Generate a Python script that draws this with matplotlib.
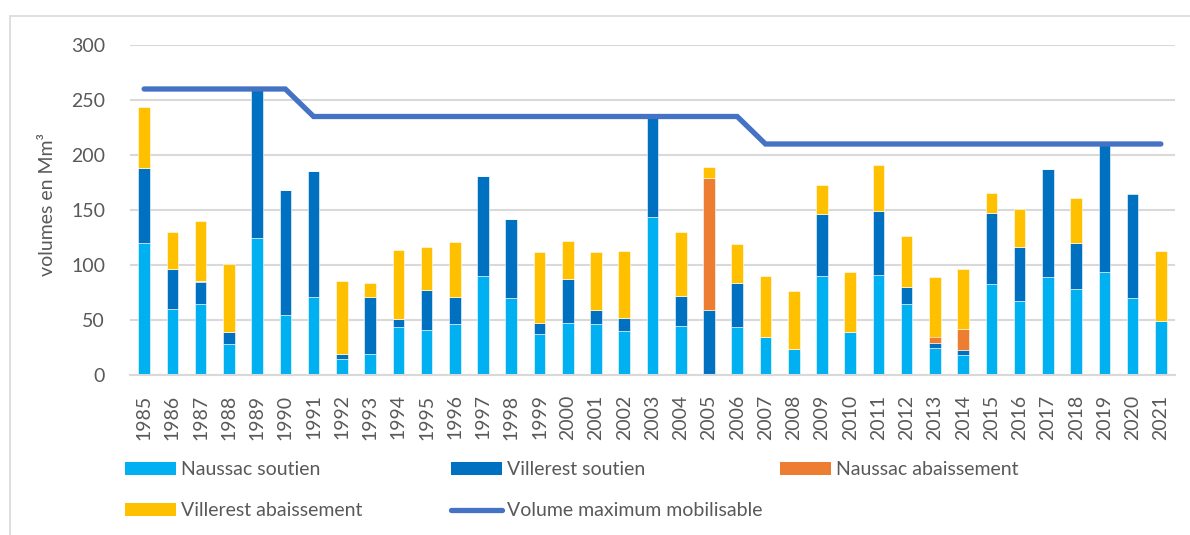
import matplotlib
matplotlib.use("Agg")
import matplotlib.pyplot as plt
from matplotlib.patches import Patch, Rectangle
from matplotlib.lines import Line2D
import numpy as np

years = list(range(1985, 2022))
naussac_soutien = [120, 60, 65, 28, 125, 55, 71, 15, 19, 44, 41, 46, 90, 70, 37, 47, 46, 40, 144, 45,
                   0, 44, 35, 24, 90, 39, 91, 65, 24.5, 18, 83, 67, 89, 78, 94, 70, 49]
villerest_soutien = [68, 36, 20, 11, 134, 113, 114, 4, 52, 7, 36, 25, 91, 72, 10, 40, 13, 12, 90, 27,
                     59, 40, 0, 0, 56, 0, 58, 15, 5, 5, 64, 49, 98, 42, 115, 95, 0]
naussac_abaissement = [0, 0, 0, 0, 0, 0, 0, 0, 0, 0, 0, 0, 0, 0, 0, 0, 0, 0, 0, 0,
                       120, 0, 0, 0, 0, 0, 0, 0, 5.5, 19, 0, 0, 0, 0, 0, 0, 0]
villerest_abaissement = [56, 34, 55, 62, 0, 0, 0, 66, 13, 63, 39, 50, 0, 0, 65, 35, 53, 61, 0, 58,
                         10, 35, 55, 52, 27, 55, 42, 46, 54, 54, 18, 35, 0, 41, 0, 0, 64]
volume_max = [260] * 6 + [235] * 16 + [210] * 15

labels = ["Naussac soutien", "Villerest soutien", "Naussac abaissement",
          "Villerest abaissement", "Volume maximum mobilisable"]
colors = ["#00B0F0", "#0070C0", "#ED7D31", "#FFC000"]
line_color = "#4472C4"
text_color = "#595959"

plt.rcParams['font.family'] = ['Lato', 'DejaVu Sans']

fig = plt.figure(figsize=(11.9, 5.35), dpi=100)
ax = fig.add_axes([130 / 1190, 1 - 375 / 535, 1045 / 1190, 330 / 535])

x = np.arange(len(years))
series = [naussac_soutien, villerest_soutien, naussac_abaissement, villerest_abaissement]
bottom = np.zeros(len(years))
for vals, col, lab in zip(series, colors, labels[:4]):
    v = np.array(vals, dtype=float)
    ax.bar(x, v, bottom=bottom, width=0.41, color=col, edgecolor="white",
           linewidth=0.4, label=lab, zorder=2)
    bottom += v

ax.plot(x, volume_max, color=line_color, linewidth=3.8, solid_capstyle="round",
        solid_joinstyle="miter", zorder=3, label=labels[4])

ax.set_xlim(-0.5, len(years) - 0.5)
ax.set_ylim(0, 300)
ax.set_yticks(range(0, 301, 50))
ax.set_xticks(x)
ax.set_xticklabels([str(y) for y in years], rotation=90, fontsize=14, color=text_color)
ax.tick_params(axis="y", labelsize=14, labelcolor=text_color, length=0, pad=18)
ax.tick_params(axis="x", length=0, pad=14)
ax.grid(axis="y", color="#D9D9D9", linewidth=1.5, zorder=0)
ax.set_axisbelow(True)
for s in ["top", "right", "left"]:
    ax.spines[s].set_visible(False)
ax.spines["bottom"].set_color("#D9D9D9")
ax.spines["bottom"].set_linewidth(1.5)
ax.set_ylabel("volumes en Mm³", fontsize=14, color=text_color)
ax.yaxis.set_label_coords((56 - 130) / 1045, (375 - 205) / 330)

# chart frame (left and top edges visible)
fig.patches.append(Rectangle((10 / 1190, -0.1), 1.2, (535 - 16) / 535 + 0.1,
                             transform=fig.transFigure, fill=False,
                             edgecolor="#D9D9D9", linewidth=1.2))

handles = [Patch(facecolor=c) for c in colors] + \
          [Line2D([0], [0], color=line_color, linewidth=3.8, solid_capstyle="round")]

kw = dict(frameon=False, fontsize=14, handlelength=2.6, handleheight=0.65,
          handletextpad=0.3, labelspacing=1.25, borderpad=0, borderaxespad=0,
          labelcolor=text_color, loc="upper left")
top = 1 - 461 / 535
fig.legend([handles[0], handles[3]], [labels[0], labels[3]],
           bbox_to_anchor=(125 / 1190, top), **kw)
fig.legend([handles[1], handles[4]], [labels[1], labels[4]],
           bbox_to_anchor=(451 / 1190, top), **kw)
fig.legend([handles[2]], [labels[2]],
           bbox_to_anchor=(780 / 1190, top), **kw)

fig.savefig("out.png", dpi=100)
